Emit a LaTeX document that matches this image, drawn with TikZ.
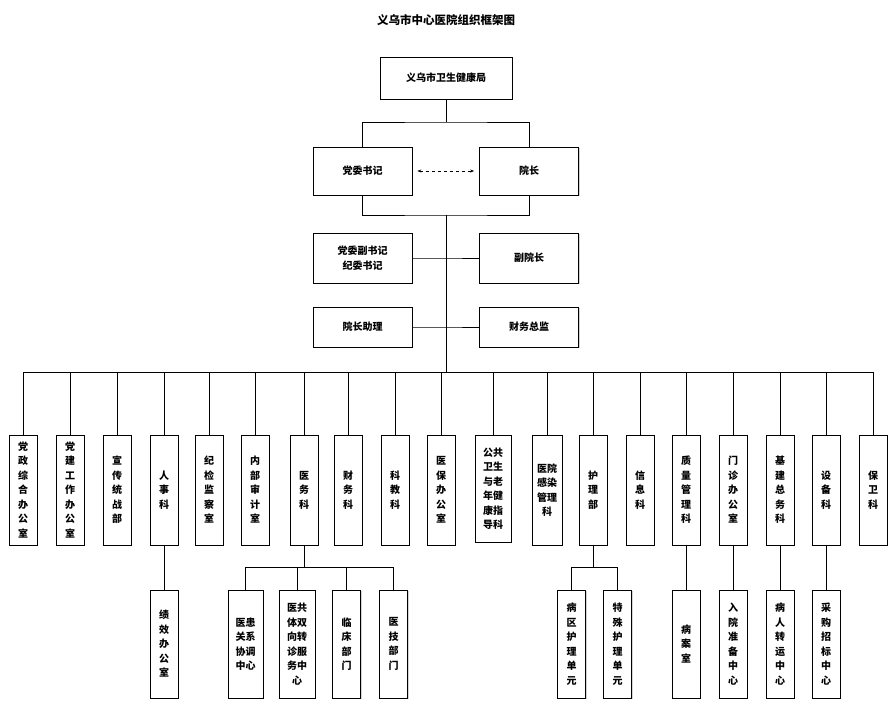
\documentclass[tikz,border=0pt]{standalone}
\usepackage{fontspec}
\setmainfont{Noto Sans CJK SC}
\usetikzlibrary{shadows,arrows.meta}
\tikzset{
  bx/.style={draw, fill=white, line width=0.7pt, align=center, font=\fontsize{10}{14.5}\selectfont\bfseries, inner sep=1pt,
    drop shadow={opacity=0.35, shadow xshift=1.2pt, shadow yshift=-1.2pt}},
  hb/.style={bx, minimum width=99pt, minimum height=48pt},
  vb/.style={bx, minimum width=28pt, minimum height=110pt},
  ln/.style={line width=0.7pt}
}
\begin{document}
\begin{tikzpicture}[x=1pt,y=-1pt]
\useasboundingbox (0,0) rectangle (891,710);
\node[font=\fontsize{11.5}{14}\selectfont\bfseries] (title) at (446,20) {义乌市中心医院组织框架图};
\node[bx, minimum width=132pt, minimum height=42pt] (wjj) at (446,78) {义乌市卫生健康局};
\node[hb] (dw) at (362.5,171) {党委书记};
\node[hb] (yz) at (529,171) {院长};
\node[hb, minimum height=50pt] (fsj) at (362.5,258) {党委副书记\\纪委书记};
\node[hb, minimum height=50pt] (fyz) at (529,258) {副院长};
\node[hb, minimum height=40pt] (zl) at (362.5,327) {院长助理};
\node[hb, minimum height=40pt] (cw) at (529,327) {财务总监};
\coordinate (j1) at (446,122);
\coordinate (j2) at (446,215);
\coordinate (bus) at (446,372);
\draw[ln] (wjj.south) -- (j1);
\draw[ln] (dw.north) |- (j1) -| (yz.north);
\draw[ln] (dw.south) |- (j2) -| (yz.south);
\draw[ln] (j2) -- (bus);
\draw[ln] (fsj.east) -- (fsj.east -| j2) -- (fyz.west);
\draw[ln] (zl.east) -- (zl.east -| j2) -- (cw.west);
\draw[ln, dashed, {Stealth[length=4pt]}-{Stealth[length=4pt]}] (dw.east) ++(5,0) -- ([xshift=-5pt]yz.west);
% columns
\node[vb] (c1) at (23,490) {党\\政\\综\\合\\办\\公\\室};
\node[vb] (c2) at (70,490) {党\\建\\工\\作\\办\\公\\室};
\node[vb] (c3) at (117,490) {宣\\传\\统\\战\\部};
\node[vb] (c4) at (164,490) {人\\事\\科};
\node[vb] (c5) at (209,490) {纪\\检\\监\\察\\室};
\node[vb] (c6) at (255,490) {内\\部\\审\\计\\室};
\node[vb] (c7) at (304,490) {医\\务\\科};
\node[vb] (c8) at (348,490) {财\\务\\科};
\node[vb] (c9) at (395,490) {科\\教\\科};
\node[vb] (c10) at (441,490) {医\\保\\办\\公\\室};
\node[vb, minimum width=36pt, minimum height=107pt] (c11) at (493,488.5) {公共\\卫生\\与老\\年健\\康指\\导科};
\node[vb, minimum width=30pt] (c12) at (547,490) {医院\\感染\\管理\\科};
\node[vb] (c13) at (593,490) {护\\理\\部};
\node[vb] (c14) at (640,490) {信\\息\\科};
\node[vb] (c15) at (686,490) {质\\量\\管\\理\\科};
\node[vb] (c16) at (733,490) {门\\诊\\办\\公\\室};
\node[vb] (c17) at (780,490) {基\\建\\总\\务\\科};
\node[vb] (c18) at (826,490) {设\\备\\科};
\node[vb] (c19) at (873,490) {保\\卫\\科};
\draw[ln] (c1.north |- bus) -- (c19.north |- bus);
\foreach \i in {1,...,19} \draw[ln] (c\i.north) -- (c\i.north |- bus);
% sub boxes
\node[vb, minimum height=108pt] (s1) at (164,644) {绩\\效\\办\\公\\室};
\node[vb, minimum width=35pt, minimum height=108pt] (s2) at (245.5,644) {医患\\关系\\协调\\中心};
\node[vb, minimum width=36pt, minimum height=108pt] (s3) at (297,644) {医共\\体双\\向转\\诊服\\务中\\心};
\node[vb, minimum height=108pt] (s4) at (346.5,644) {临\\床\\部\\门};
\node[vb, minimum height=108pt] (s5) at (393.5,644) {医\\技\\部\\门};
\node[vb, minimum height=108pt] (s6) at (571.5,644) {病\\区\\护\\理\\单\\元};
\node[vb, minimum height=108pt] (s7) at (617.5,644) {特\\殊\\护\\理\\单\\元};
\node[vb, minimum height=108pt] (s8) at (686,644) {病\\案\\室};
\node[vb, minimum height=108pt] (s9) at (733,644) {入\\院\\准\\备\\中\\心};
\node[vb, minimum height=108pt] (s10) at (780,644) {病\\人\\转\\运\\中\\心};
\node[vb, minimum height=108pt] (s11) at (826,644) {采\\购\\招\\标\\中\\心};
\coordinate (ym) at (0,567);
\draw[ln] (c4.south) -- (s1.north);
\draw[ln] (c7.south) -- (c7.south |- ym);
\draw[ln] (s2.north) |- (c7.south |- ym) -| (s5.north);
\draw[ln] (s3.north) -- (s3.north |- ym);
\draw[ln] (s4.north) -- (s4.north |- ym);
\draw[ln] (c13.south) -- (c13.south |- ym);
\draw[ln] (s6.north) |- (c13.south |- ym) -| (s7.north);
\draw[ln] (c15.south) -- (s8.north);
\draw[ln] (c16.south) -- (s9.north);
\draw[ln] (c17.south) -- (s10.north);
\draw[ln] (c18.south) -- (s11.north);
\end{tikzpicture}
\end{document}
